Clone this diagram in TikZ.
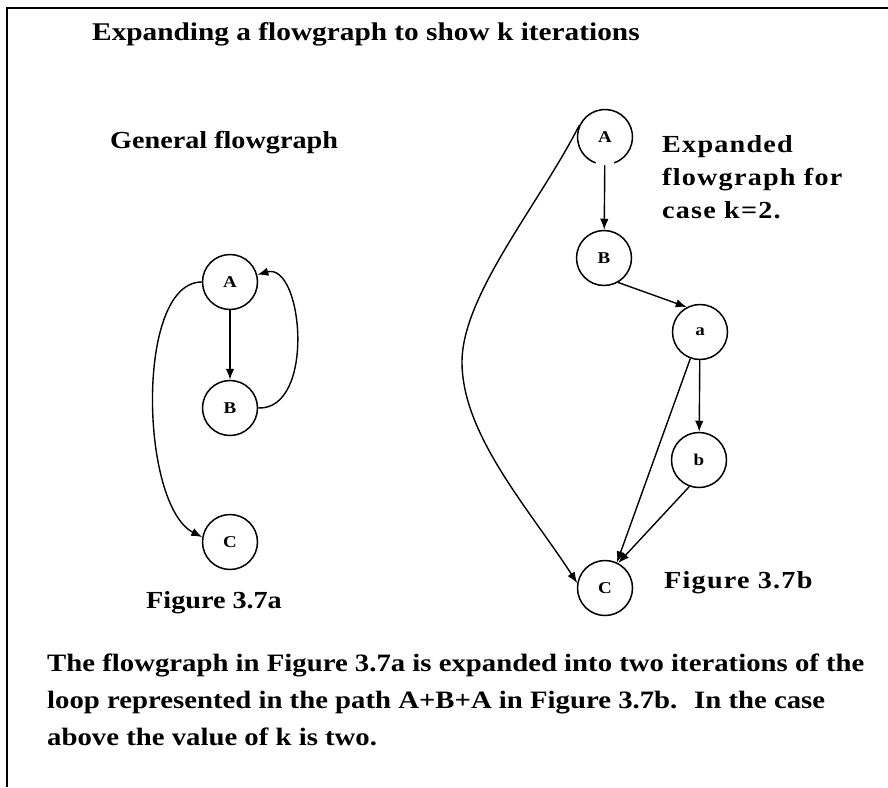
\documentclass[tikz,border=0pt]{standalone}
\usepackage{fontspec}
\setmainfont{Liberation Serif}
\newfontfamily\widefont[FakeStretch=1.15]{Liberation Serif}
\newfontfamily\spacedfont[FakeStretch=1.15, LetterSpace=5]{Liberation Serif}
\usetikzlibrary{arrows.meta, positioning}

\tikzset{
    vertex/.style={circle, draw, line width=1.5pt, minimum size=55pt, inner sep=0pt,
        font=\widefont\bfseries\fontsize{16.5}{16.5}\selectfont},
    link/.style={line width=1.4pt, -{Latex[length=11pt, width=8.5pt]}},
    caption/.style={anchor=base west, inner sep=0pt, align=left,
        font=\widefont\bfseries\fontsize{24.5}{33}\selectfont},
    spaced/.style={caption, font=\spacedfont\bfseries\fontsize{24.5}{33}\selectfont},
}

\begin{document}
\begin{tikzpicture}[x=1pt, y=-1pt]
    \useasboundingbox (0,0) rectangle (888,787);

    % 边框
    \draw[line width=1.8pt] (888,8) -- (7,8) -- (7,787);

    % 标题
    \node[caption, font=\widefont\bfseries\fontsize{25.5}{33}\selectfont] (title) at (92,40)
        {Expanding a flowgraph to show k iterations};
    \node[caption] (gen) at (110,148) {General flowgraph};

    % 图 3.7a
    \node[vertex] (A1) at (230,282) {A};
    \node[vertex] (B1) at (230,408) {B};
    \node[vertex] (C1) at (230,542) {C};
    \draw[link] (A1) -- (B1);
    \draw[link] (B1.east) .. controls (316,410) and (303,262) .. (A1.15);
    \draw[link] (A1.west) .. controls (135,282) and (140,505) .. (C1.170);
    \node[caption] (figa) at (146,608) {Figure 3.7a};

    % 图 3.7b
    \node[vertex, draw=none] (A2) at (605,137) {A};
    \draw[line width=1.5pt] ([shift={(-70:27.5pt)}]A2.center) arc[start angle=-70, end angle=250, radius=27.5pt];
    \node[vertex] (B2) at (604,258) {B};
    \node[vertex] (a2) at (700,332) {a};
    \node[vertex] (b2) at (699,460) {b};
    \node[vertex] (C2) at (605,588) {C};
    \coordinate (turn) at (462,362);
    \draw[link] (A2) -- (B2);
    \draw[link] (B2.-60) -- (a2.118);
    \draw[link] (a2) -- (b2);
    \draw[link] (a2.-110) -- (C2.65);
    \draw[link] (b2.-110) -- (C2.62);
    \draw[link] (A2.155) .. controls (540,203) and (462,295) .. (turn)
        .. controls (462,435) and (530,510) .. (C2.170);
    \node[spaced] (expd) at (662,218) {Expanded\\flowgraph for\\case k=2.};
    \node[spaced] (figb) at (664,588) {Figure 3.7b};

    % 说明文字
    \node[caption, font=\widefont\bfseries\fontsize{25}{37}\selectfont] (note) at (47,745)
        {The flowgraph in Figure 3.7a is expanded into two iterations of the\\
         loop represented in the path A+B+A in Figure 3.7b.~ In the case\\
         above the value of k is two.};
\end{tikzpicture}
\end{document}
